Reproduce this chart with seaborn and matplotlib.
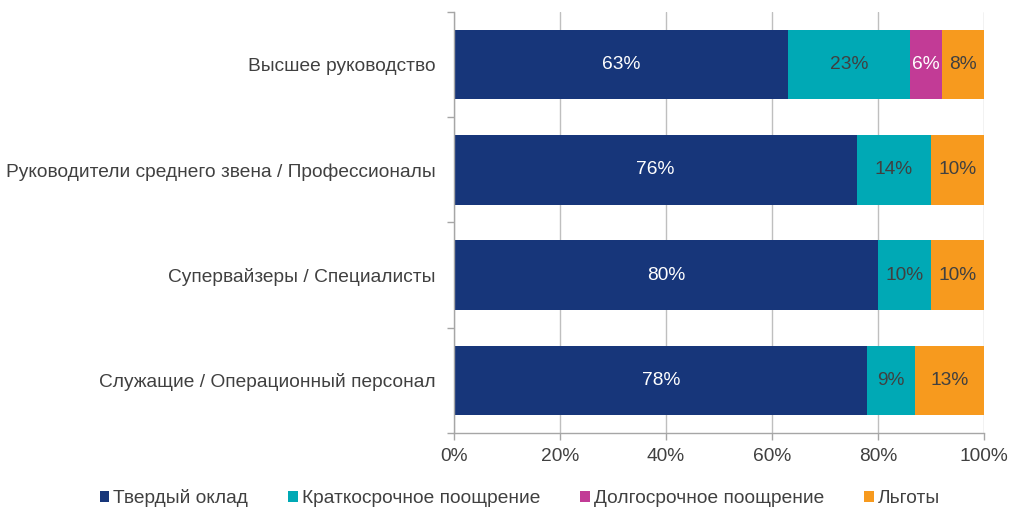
import matplotlib.pyplot as plt
import numpy as np
import pandas as pd
import seaborn as sns
from matplotlib.patches import Patch

categories = ['Высшее руководство',
              'Руководители среднего звена / Профессионалы',
              'Супервайзеры / Специалисты',
              'Служащие / Операционный персонал']
series_names = ['Твердый оклад', 'Краткосрочное поощрение',
                'Долгосрочное поощрение', 'Льготы']
fixed_pay = [63, 76, 80, 78]
short_term = [23, 14, 10, 9]
long_term = [6, 0, 0, 0]
benefits = [8, 10, 10, 13]

COLORS = ['#17367A', '#00A9B5', '#C23B96', '#F79A1E']
LABEL_COLORS = ['white', '#404040', 'white', '#404040']
TEXT = '#404040'
FS = 13.8

sns.set_theme(style='white')
plt.rcParams['font.family'] = ['Liberation Sans', 'DejaVu Sans']

df = pd.DataFrame({'category': categories,
                   series_names[0]: fixed_pay,
                   series_names[1]: short_term,
                   series_names[2]: long_term,
                   series_names[3]: benefits})
cum = df[series_names].cumsum(axis=1)

fig = plt.figure(figsize=(10.23, 5.29), dpi=100)
ax = fig.add_axes([0.4438, 0.1815, 0.5181, 0.7958])

# draw cumulative totals back to front so segments appear stacked
for i in reversed(range(len(series_names))):
    sns.barplot(x=cum[series_names[i]], y=df['category'], color=COLORS[i],
                orient='h', width=0.66, saturation=1, ax=ax, zorder=2,
                linewidth=0)

# segment labels
for i, name in enumerate(series_names):
    starts = cum[name] - df[name]
    for j, v in enumerate(df[name]):
        if v > 0:
            ax.text(starts[j] + v / 2, j, f'{v}%', ha='center', va='center',
                    color=LABEL_COLORS[i], fontsize=FS, zorder=3)

ax.set_xlim(0, 100)
ax.set_ylim(len(categories) - 0.5, -0.5)
ax.set_xticks(np.arange(0, 101, 20))
ax.set_xticklabels([f'{t}%' for t in range(0, 101, 20)])
ax.set_yticks(range(len(categories)))
ax.set_yticklabels(categories)
ax.set_yticks(np.arange(-0.5, len(categories), 1), minor=True)
ax.set_xlabel('')
ax.set_ylabel('')

ax.grid(axis='x', color='#BFBFBF', linewidth=1, zorder=0)
ax.set_axisbelow(True)
for s in ['top', 'right']:
    ax.spines[s].set_visible(False)
for s in ['left', 'bottom']:
    ax.spines[s].set_color('#A6A6A6')
    ax.spines[s].set_linewidth(1)

ax.tick_params(axis='y', which='major', length=0, labelsize=FS,
               labelcolor=TEXT, pad=13)
ax.tick_params(axis='y', which='minor', length=5, color='#A6A6A6', width=1,
               left=True, direction='out')
ax.tick_params(axis='x', which='major', length=5, color='#A6A6A6', width=1,
               labelsize=FS, labelcolor=TEXT, direction='out', bottom=True,
               pad=6)

handles = [Patch(facecolor=c, edgecolor='none') for c in COLORS]
fig.legend(handles, series_names, loc='center', bbox_to_anchor=(0.508, 0.058),
           ncol=4, frameon=False, fontsize=FS, labelcolor=TEXT,
           handlelength=0.5, handleheight=0.5, handletextpad=0.2,
           columnspacing=2.1)

fig.savefig('out.png', dpi=100)
